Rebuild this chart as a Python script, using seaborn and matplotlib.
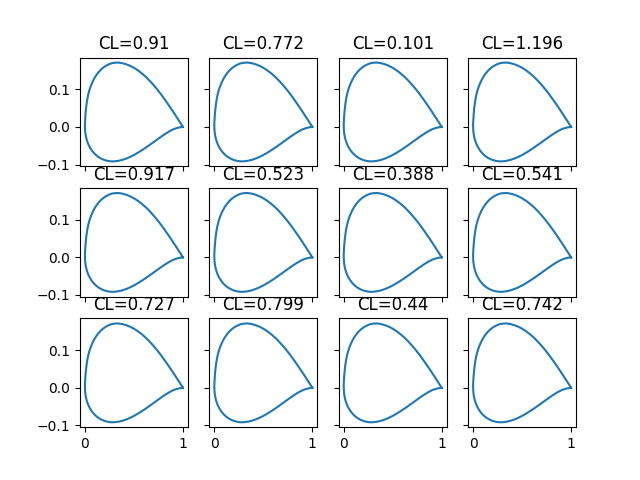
import matplotlib
matplotlib.use("Agg")
import matplotlib.pyplot as plt
import seaborn as sns

# lift coefficients shown in the titles, row by row
cl_values = [0.91, 0.772, 0.101, 1.196,
             0.917, 0.523, 0.388, 0.541,
             0.727, 0.799, 0.44, 0.742]

# airfoil outline
# upper surface: trailing edge -> leading edge
upper_x = [1.0, 0.98, 0.94, 0.90, 0.86, 0.82, 0.78, 0.74, 0.70, 0.66, 0.62, 0.58, 0.54,
           0.50, 0.46, 0.42, 0.38, 0.34, 0.30, 0.27, 0.24, 0.212, 0.186, 0.162, 0.140,
           0.120, 0.102, 0.085, 0.070, 0.056, 0.044, 0.034, 0.025, 0.017, 0.011, 0.006,
           0.002, 0.0]
upper_y = [0.0, 0.0083, 0.0245, 0.0405, 0.0560, 0.0710, 0.0855, 0.0990, 0.1115, 0.1230,
           0.1335, 0.1425, 0.1505, 0.1572, 0.1626, 0.1667, 0.1696, 0.1712, 0.1706, 0.1692,
           0.1660, 0.1622, 0.1575, 0.1520, 0.1458, 0.1390, 0.1318, 0.1236, 0.1151, 0.1057,
           0.0961, 0.0861, 0.0744, 0.0608, 0.0476, 0.0331, 0.0171, 0.006]
# lower surface: leading edge -> trailing edge
lower_x = [0.002, 0.005, 0.010, 0.016, 0.024, 0.034, 0.046, 0.060, 0.076, 0.095, 0.117,
           0.142, 0.170, 0.200, 0.232, 0.265, 0.30, 0.34, 0.38, 0.42, 0.46, 0.50, 0.54,
           0.58, 0.62, 0.66, 0.70, 0.74, 0.78, 0.82, 0.86, 0.90, 0.94, 0.97, 1.0]
lower_y = [-0.0082, -0.0163, -0.0244, -0.0313, -0.0383, -0.0454, -0.0520, -0.0583, -0.0644,
           -0.0702, -0.0757, -0.0807, -0.0848, -0.0881, -0.0903, -0.0916, -0.0915, -0.0902,
           -0.0878, -0.0843, -0.0799, -0.0747, -0.0687, -0.0622, -0.0553, -0.0480, -0.0405,
           -0.0330, -0.0255, -0.0185, -0.0120, -0.0065, -0.0028, -0.0010, 0.0]

foil_x = upper_x + lower_x
foil_y = upper_y + lower_y

fig, axes = plt.subplots(3, 4, sharex=True, sharey=True, figsize=(6.4, 4.8), dpi=100)

for ax, cl in zip(axes.flat, cl_values):
    sns.lineplot(x=foil_x, y=foil_y, sort=False, estimator=None, ax=ax)
    ax.set_title(f"CL={cl}")

fig.savefig("out.png")
